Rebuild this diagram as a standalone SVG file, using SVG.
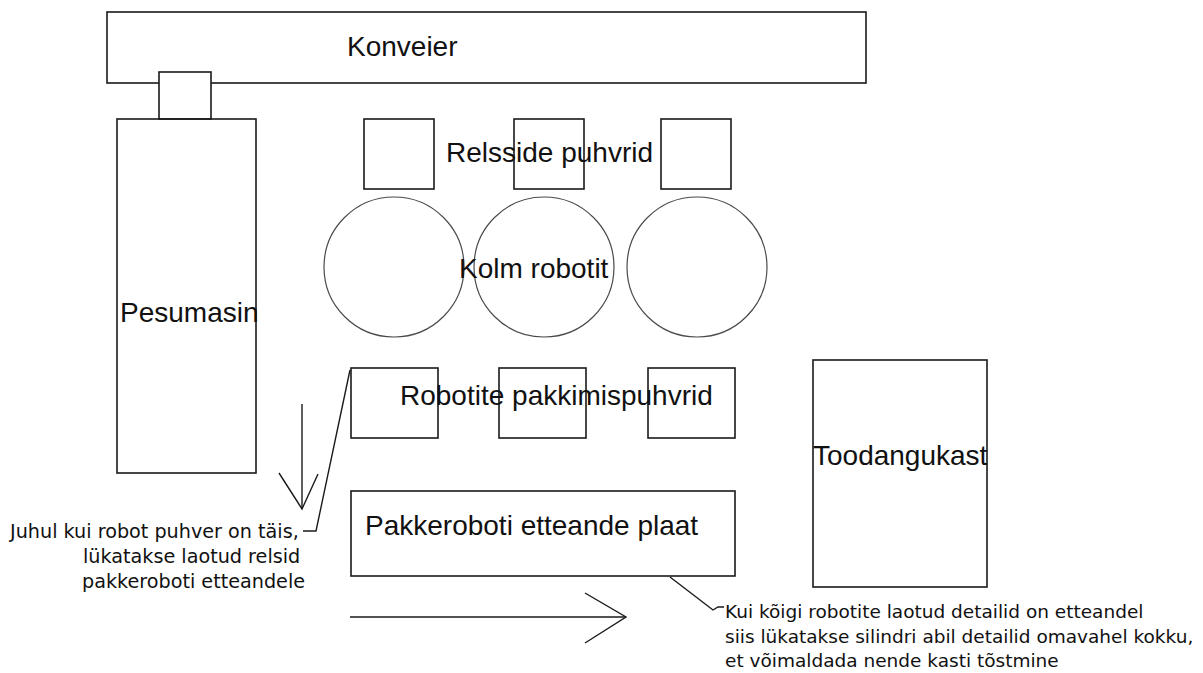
<svg xmlns="http://www.w3.org/2000/svg" width="1203" height="673" viewBox="0 0 1203 673">
<style>
.box{fill:none;stroke:#1a1a1a;stroke-width:1.6}
.circ{fill:none;stroke:#4a4a4a;stroke-width:1.2}
.ln{fill:none;stroke:#1a1a1a;stroke-width:1.4}
.big{font-family:"Liberation Sans",Arial,sans-serif;font-size:28px;fill:#111}
.small{font-family:"DejaVu Sans",Verdana,sans-serif;font-size:19.2px;fill:#111}
.small2{font-family:"DejaVu Sans",Verdana,sans-serif;font-size:18.5px;fill:#111}
</style>
<rect width="1203" height="673" fill="#fff"/>
<g id="konveier">
<rect class="box" x="107" y="12" width="759" height="71"/>
<text class="big" x="347" y="56" font-size="27">Konveier</text>
</g>
<g id="pesumasin">
<rect class="box" x="159" y="72" width="52" height="47" style="fill:#fff"/>
<rect class="box" x="117" y="119" width="139" height="354"/>
<text class="big" x="120" y="322">Pesumasin</text>
</g>
<g id="relsside-puhvrid">
<rect class="box" x="364" y="119" width="70" height="70"/>
<rect class="box" x="514" y="119" width="70" height="70"/>
<rect class="box" x="661" y="119" width="70" height="70"/>
<text class="big" x="446" y="162">Relsside puhvrid</text>
</g>
<g id="kolm-robotit">
<circle class="circ" cx="394" cy="267" r="70"/>
<circle class="circ" cx="544" cy="267" r="70"/>
<circle class="circ" cx="697" cy="267" r="70"/>
<text class="big" x="459" y="278">Kolm robotit</text>
</g>
<g id="pakkimispuhvrid">
<rect class="box" x="351" y="368" width="87" height="70"/>
<rect class="box" x="499" y="368" width="87" height="70"/>
<rect class="box" x="648" y="368" width="87" height="70"/>
<text class="big" x="400" y="405">Robotite pakkimispuhvrid</text>
</g>
<g id="etteande-plaat">
<rect class="box" x="351" y="491" width="384" height="85"/>
<text class="big" x="365" y="535">Pakkeroboti etteande plaat</text>
</g>
<g id="toodangukast">
<rect class="box" x="813" y="360" width="174" height="227"/>
<text class="big" x="813" y="465">Toodangukast</text>
</g>
<g id="connectors">
<line class="ln" x1="302" y1="404" x2="302" y2="509"/>
<polyline class="ln" points="279,473 302,509 318,474"/>
<line class="ln" x1="350" y1="617" x2="626" y2="617"/>
<polyline class="ln" points="585,593 626,617 585,643"/>
<polyline class="ln" points="303,531 316,531 350,370" stroke-width="1.1"/>
<polyline class="ln" points="670,577 713,610 718,607 724,607" stroke-width="1.1"/>
</g>
<g id="note-left">
<text class="small" x="10" y="538">Juhul kui robot puhver on täis,</text>
<text class="small" x="83" y="563">lükatakse laotud relsid</text>
<text class="small" x="82" y="588">pakkeroboti etteandele</text>
</g>
<g id="note-right">
<text class="small2" x="725" y="618">Kui kõigi robotite laotud detailid on etteandel</text>
<text class="small2" x="725" y="643">siis lükatakse silindri abil detailid omavahel kokku,</text>
<text class="small2" x="725" y="667">et võimaldada nende kasti tõstmine</text>
</g>
</svg>
